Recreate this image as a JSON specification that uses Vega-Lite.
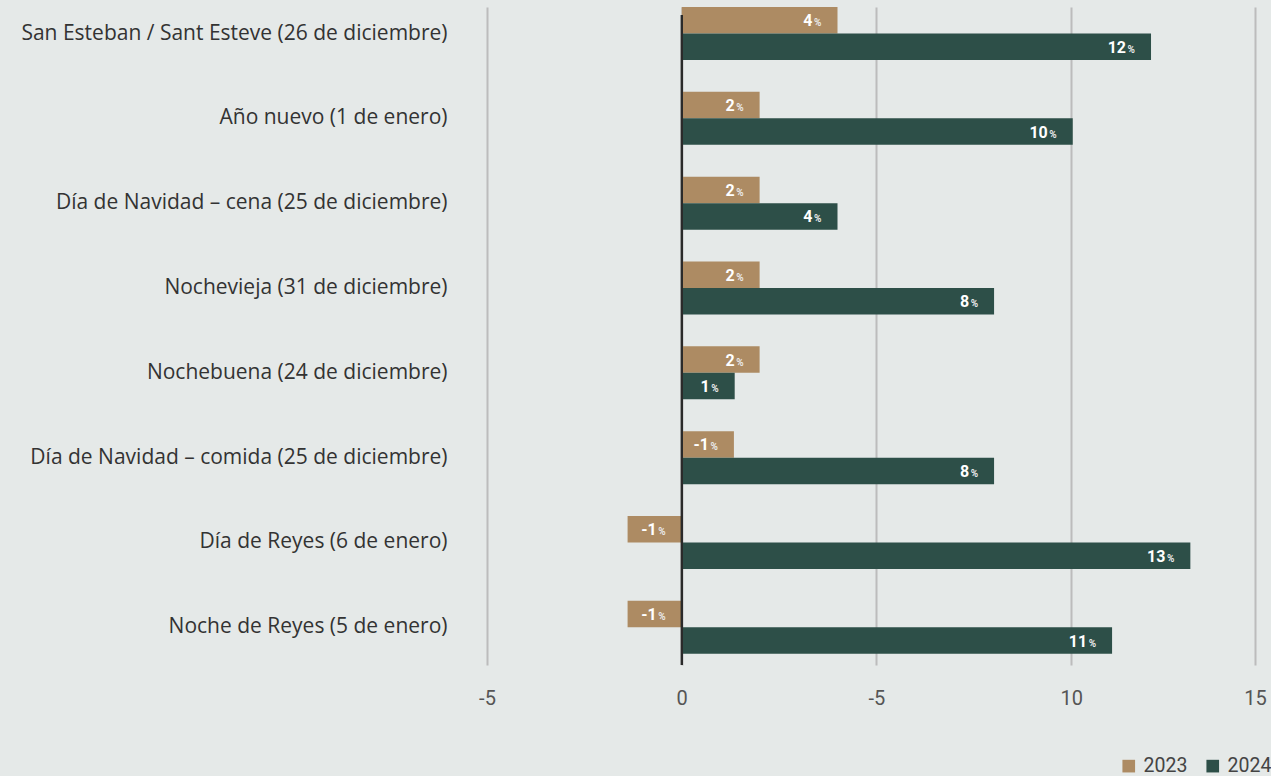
{
  "$schema": "https://vega.github.io/schema/vega-lite/v6.json",
  "width": 768,
  "height": 658,
  "autosize": "none",
  "padding": {"left": 487, "top": 7, "right": 16, "bottom": 111},
  "background": "#e5e9e8",
  "config": {
    "view": {"stroke": null},
    "font": "Open Sans"
  },
  "data": {
    "values": [
      {"cat": "San Esteban / Sant Esteve (26 de diciembre)", "year": "2023", "value": 4.0, "label": "4"},
      {"cat": "San Esteban / Sant Esteve (26 de diciembre)", "year": "2024", "value": 12.05, "label": "12"},
      {"cat": "Año nuevo (1 de enero)", "year": "2023", "value": 2.0, "label": "2"},
      {"cat": "Año nuevo (1 de enero)", "year": "2024", "value": 10.04, "label": "10"},
      {"cat": "Día de Navidad – cena (25 de diciembre)", "year": "2023", "value": 2.0, "label": "2"},
      {"cat": "Día de Navidad – cena (25 de diciembre)", "year": "2024", "value": 4.0, "label": "4"},
      {"cat": "Nochevieja (31 de diciembre)", "year": "2023", "value": 2.0, "label": "2"},
      {"cat": "Nochevieja (31 de diciembre)", "year": "2024", "value": 8.02, "label": "8"},
      {"cat": "Nochebuena (24 de diciembre)", "year": "2023", "value": 2.0, "label": "2"},
      {"cat": "Nochebuena (24 de diciembre)", "year": "2024", "value": 1.36, "label": "1"},
      {"cat": "Día de Navidad – comida (25 de diciembre)", "year": "2023", "value": 1.34, "label": "-1"},
      {"cat": "Día de Navidad – comida (25 de diciembre)", "year": "2024", "value": 8.02, "label": "8"},
      {"cat": "Día de Reyes (6 de enero)", "year": "2023", "value": -1.39, "label": "-1"},
      {"cat": "Día de Reyes (6 de enero)", "year": "2024", "value": 13.06, "label": "13"},
      {"cat": "Noche de Reyes (5 de enero)", "year": "2023", "value": -1.39, "label": "-1"},
      {"cat": "Noche de Reyes (5 de enero)", "year": "2024", "value": 11.05, "label": "11"}
    ]
  },
  "encoding": {
    "y": {
      "field": "cat",
      "type": "nominal",
      "sort": null,
      "title": null,
      "scale": {"paddingInner": 0.375, "paddingOuter": 0.066, "align": 0},
      "axis": {
        "domain": false,
        "ticks": false,
        "grid": false,
        "labelPadding": 40,
        "labelFontSize": 21,
        "labelColor": "#333333",
        "labelLimit": 0
      }
    },
    "yOffset": {"field": "year", "type": "nominal", "scale": {"paddingInner": 0, "paddingOuter": 0}}
  },
  "layer": [
    {
      "mark": {"type": "bar"},
      "encoding": {
        "x": {
          "field": "value",
          "type": "quantitative",
          "title": null,
          "scale": {"domain": [-5, 14.72], "nice": false, "zero": false},
          "axis": {
            "values": [-5, 0, 5, 10, 14.72],
            "labelExpr": "datum.value < 0 ? '-5' : (datum.value == 5 ? '-5' : (datum.value > 14 ? '15' : datum.label))",
            "domain": false,
            "ticks": false,
            "grid": true,
            "gridColor": "#bcbcbc",
            "gridWidth": 2,
            "labelPadding": 23,
            "labelFontSize": 20,
            "labelFont": "Roboto",
            "labelColor": "#555555",
            "labelFlush": false
          }
        },
        "color": {
          "field": "year",
          "type": "nominal",
          "scale": {"domain": ["2023", "2024"], "range": ["#ad8b63", "#2d4f48"]},
          "legend": {
            "title": null,
            "orient": "none",
            "direction": "horizontal",
            "legendX": 632,
            "legendY": 749,
            "symbolType": "square",
            "symbolSize": 160,
            "symbolStrokeWidth": 0,
            "labelFontSize": 19.5,
            "labelFont": "Roboto",
            "labelColor": "#444444",
            "columnPadding": 15,
            "labelOffset": 5
          }
        }
      }
    },
    {
      "mark": {"type": "rule", "color": "#2a2a2a", "strokeWidth": 1.5},
      "encoding": {"x": {"datum": 0}, "y": {"value": 8}, "y2": {"value": 658}, "yOffset": null}
    },
    {
      "transform": [{"filter": "datum.value > 0"}],
      "mark": {"type": "text", "align": "right", "baseline": "alphabetic", "dx": -25, "dy": 6, "fontSize": 16, "fontWeight": "bold", "font": "Roboto", "color": "#ffffff"},
      "encoding": {"x": {"field": "value", "type": "quantitative"}, "text": {"field": "label"}}
    },
    {
      "transform": [{"filter": "datum.value > 0"}],
      "mark": {"type": "text", "align": "right", "baseline": "alphabetic", "dx": -16, "dy": 6, "fontSize": 10, "fontWeight": "bold", "font": "Roboto", "color": "#e8e8e8", "text": "%"},
      "encoding": {"x": {"field": "value", "type": "quantitative"}}
    },
    {
      "transform": [{"filter": "datum.value < 0"}],
      "mark": {"type": "text", "align": "right", "baseline": "alphabetic", "dx": -25, "dy": 6, "fontSize": 16, "fontWeight": "bold", "font": "Roboto", "color": "#ffffff"},
      "encoding": {"x": {"datum": 0}, "text": {"field": "label"}}
    },
    {
      "transform": [{"filter": "datum.value < 0"}],
      "mark": {"type": "text", "align": "right", "baseline": "alphabetic", "dx": -16, "dy": 6, "fontSize": 10, "fontWeight": "bold", "font": "Roboto", "color": "#e8e8e8", "text": "%"},
      "encoding": {"x": {"datum": 0}}
    }
  ]
}
